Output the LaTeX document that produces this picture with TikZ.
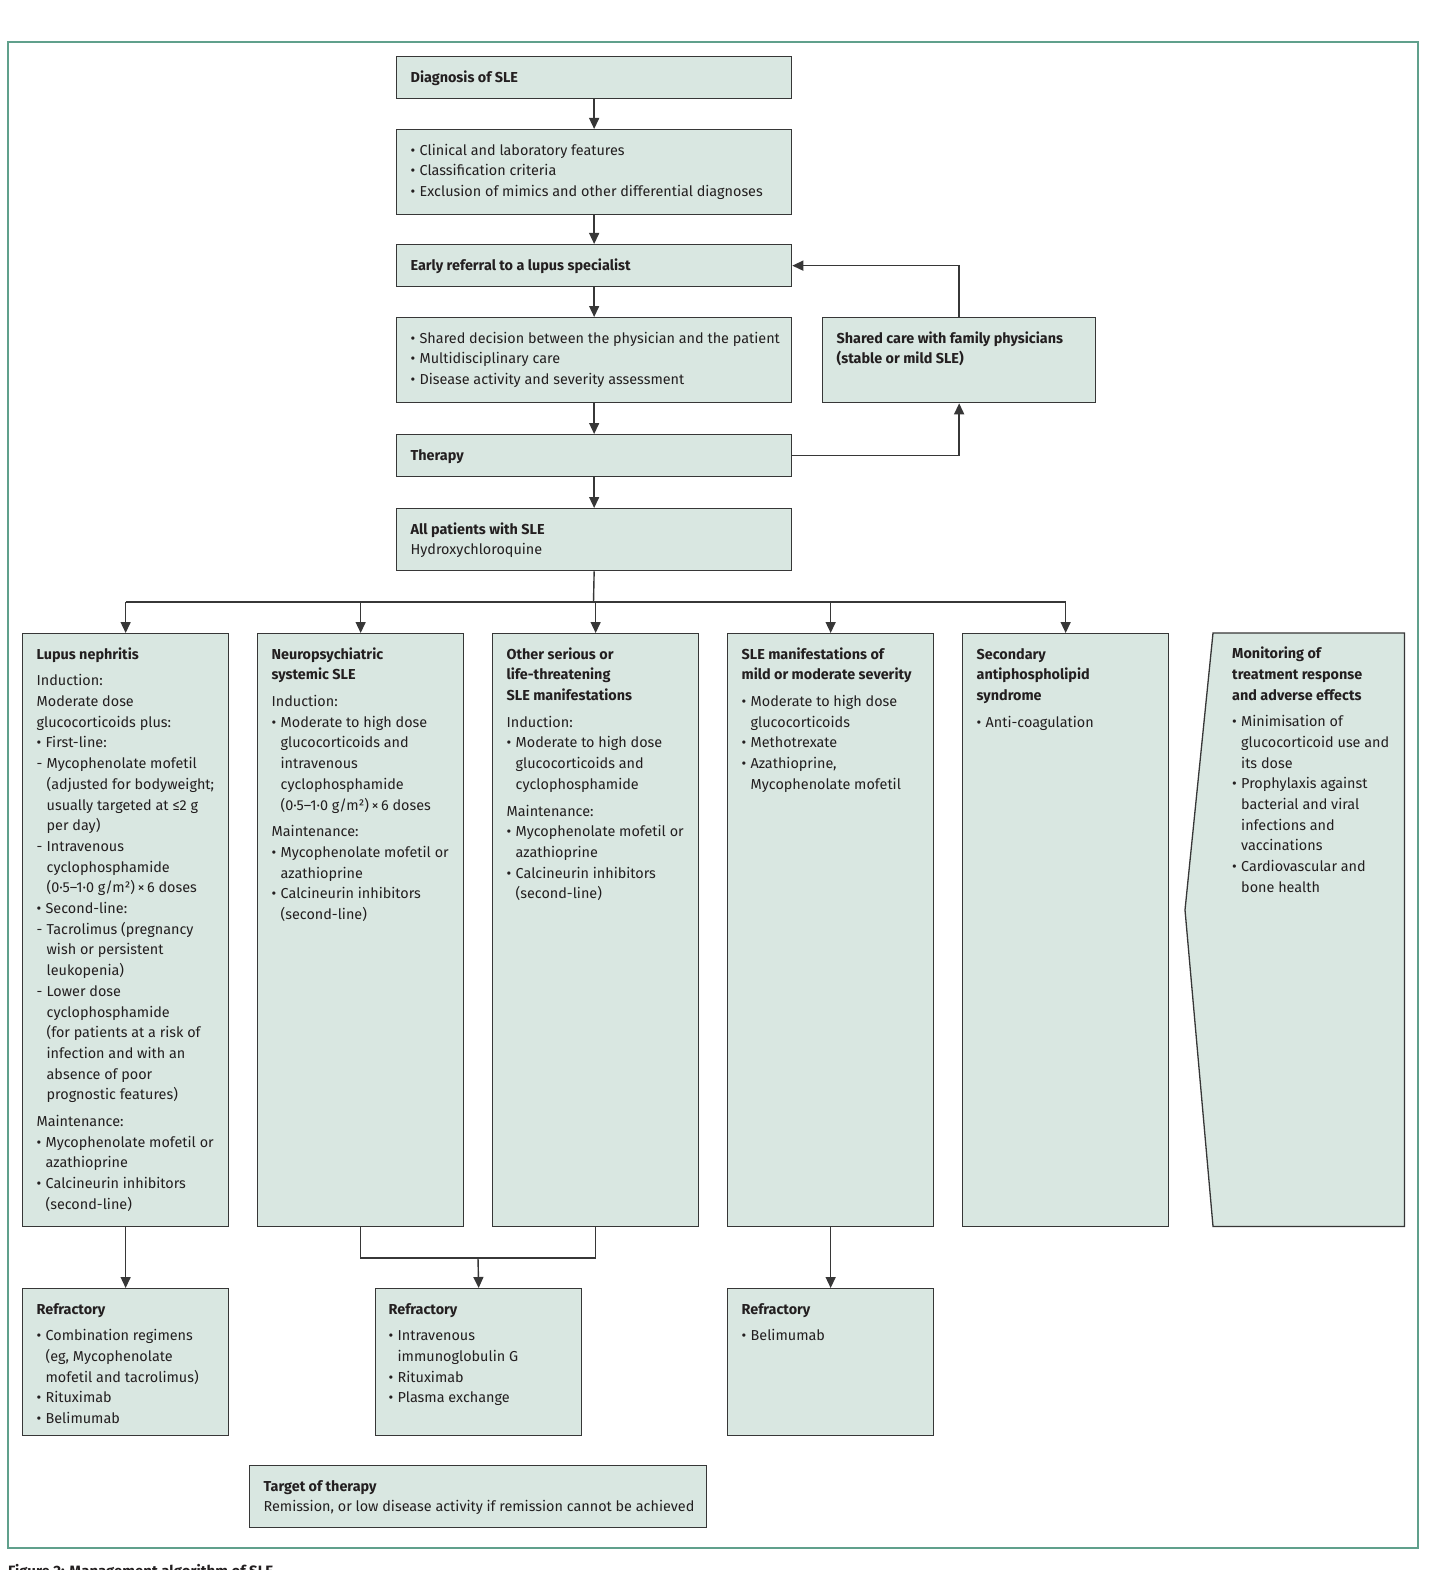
\documentclass[tikz,border=0pt]{standalone}
\usepackage{fontspec}
\setmainfont{Fira Sans}
\usetikzlibrary{arrows.meta,calc,backgrounds}

\definecolor{framegreen}{RGB}{96,160,140}
\definecolor{cardfill}{RGB}{217,231,225}
\definecolor{cardline}{RGB}{55,55,55}
\definecolor{inktext}{RGB}{35,31,32}

% box body: [left pad]{width}{height}{text}
\newcommand{\card}[4][14]{\parbox[t][#3pt][t]{#2pt}{\fontsize{14.4}{20.7}\selectfont
  \raggedright\leftskip=#1pt\parindent=0pt\vspace*{11pt}#4}}
\newcommand{\ttl}[1]{\par\leavevmode\strut\textbf{#1}}
\newcommand{\pl}{\par\leavevmode\strut}
\newcommand{\bl}{\par\hangindent=9pt\hangafter=1\leavevmode\strut\makebox[9pt][l]{\textbullet}}
\newcommand{\dl}{\par\hangindent=10pt\hangafter=1\leavevmode\strut\makebox[10pt][l]{-}}
\newcommand{\gap}{\par\vspace{6pt}}

\begin{document}
\begin{tikzpicture}[
    x=1pt, y=-1pt,
    card/.style={draw=cardline, fill=cardfill, line width=1.3pt, inner sep=0pt, anchor=north west, text=inktext},
    bare/.style={inner sep=0pt, anchor=north west, text=inktext},
    link/.style={draw=cardline, line width=1.4pt},
    arr/.style={link, -{Triangle[length=11pt,width=10pt]}}
]
\useasboundingbox (0,0) rectangle (1429,1570);

% frame
\draw[framegreen, line width=1.8pt] (8,42) rectangle (1418,1548);

% === main column ===
\node[card] (diag) at (396,56) {\card{395}{42}{\ttl{Diagnosis of SLE}}};
\node[card] (clinic) at (396,129) {\card{395}{85}{%
  \bl Clinical and laboratory features
  \bl Classification criteria
  \bl Exclusion of mimics and other differential diagnoses}};
\node[card] (referral) at (396,244) {\card{395}{42}{\ttl{Early referral to a lupus specialist}}};
\node[card] (decision) at (396,317) {\card{395}{85}{%
  \bl Shared decision between the physician and the patient
  \bl Multidisciplinary care
  \bl Disease activity and severity assessment}};
\node[card] (therapy) at (396,434) {\card{395}{42}{\ttl{Therapy}}};
\node[card] (allsle) at (396,508) {\card{395}{62}{%
  \ttl{All patients with SLE}
  \pl Hydroxychloroquine}};
\node[card] (familycare) at (822,317) {\card{273}{85}{%
  \ttl{Shared care with family physicians\newline (stable or mild SLE)}}};

\draw[arr] (diag) -- (clinic);
\draw[arr] (clinic) -- (referral);
\draw[arr] (referral) -- (decision);
\draw[arr] (decision) -- (therapy);
\draw[arr] (therapy) -- (allsle);
\draw[arr] (therapy.east) -| (familycare.south);
\draw[arr] (familycare.north) |- (referral.east);

% === organ groups ===
\node[card] (nephritis) at (22,633) {\card{206}{593}{%
  \ttl{Lupus nephritis}
  \gap\pl Induction:
  \pl Moderate dose
  \pl glucocorticoids plus:
  \bl First-line:
  \dl Mycophenolate mofetil\newline (adjusted for bodyweight;\newline usually targeted at ≤2 g\newline per day)
  \dl Intravenous\newline cyclophosphamide\newline (0·5–1·0 g/m²)\,×\,6 doses
  \bl Second-line:
  \dl Tacrolimus (pregnancy\newline wish or persistent\newline leukopenia)
  \dl Lower dose\newline cyclophosphamide\newline (for patients at a risk of\newline infection and with an\newline absence of poor\newline prognostic features)
  \gap\pl Maintenance:
  \bl Mycophenolate mofetil or\newline azathioprine
  \bl Calcineurin inhibitors\newline (second-line)}};
\node[card] (neuro) at (257,633) {\card{206}{593}{%
  \ttl{Neuropsychiatric\newline systemic SLE}
  \gap\pl Induction:
  \bl Moderate to high dose\newline glucocorticoids and\newline intravenous\newline cyclophosphamide\newline (0·5–1·0 g/m²)\,×\,6 doses
  \gap\pl Maintenance:
  \bl Mycophenolate mofetil or\newline azathioprine
  \bl Calcineurin inhibitors\newline (second-line)}};
\node[card] (serious) at (492,633) {\card{206}{593}{%
  \ttl{Other serious or\newline life-threatening\newline SLE manifestations}
  \gap\pl Induction:
  \bl Moderate to high dose\newline glucocorticoids and\newline cyclophosphamide
  \gap\pl Maintenance:
  \bl Mycophenolate mofetil or\newline azathioprine
  \bl Calcineurin inhibitors\newline (second-line)}};
\node[card] (mildsle) at (727,633) {\card{206}{593}{%
  \ttl{SLE manifestations of\newline mild or moderate severity}
  \gap\bl Moderate to high dose\newline glucocorticoids
  \bl Methotrexate
  \bl Azathioprine,\newline Mycophenolate mofetil}};
\node[card] (antiphos) at (962,633) {\card{206}{593}{%
  \ttl{Secondary\newline antiphospholipid\newline syndrome}
  \gap\bl Anti-coagulation}};
\node[bare] (monitor) at (1213,633) {\card[19]{191}{593}{%
  \ttl{Monitoring of\newline treatment response\newline and adverse effects}
  \gap\bl Minimisation of\newline glucocorticoid use and\newline its dose
  \bl Prophylaxis against\newline bacterial and viral\newline infections and\newline vaccinations
  \bl Cardiovascular and\newline bone health}};
\begin{scope}[on background layer]
  \filldraw[draw=cardline, fill=cardfill, line width=1.3pt]
    (monitor.north west) -- (monitor.north east) -- (monitor.south east)
    -- (monitor.south west) -- (1185,910) -- cycle;
\end{scope}

% split from all patients
\coordinate (split) at (593.5,602);
\draw[link] (allsle.south) -- (split);
\draw[link] (nephritis.north |- split) -- (antiphos.north |- split);
\foreach \grp in {nephritis, neuro, serious, mildsle, antiphos}
  \draw[arr] (\grp.north |- split) -- (\grp.north);

% === refractory ===
\node[card] (refractA) at (22,1288) {\card{206}{147}{%
  \ttl{Refractory}
  \gap\bl Combination regimens\newline (eg, Mycophenolate\newline mofetil and tacrolimus)
  \bl Rituximab
  \bl Belimumab}};
\node[card] (refractB) at (375,1288) {\card[13]{206}{147}{%
  \ttl{Refractory}
  \gap\bl Intravenous\newline immunoglobulin G
  \bl Rituximab
  \bl Plasma exchange}};
\node[card] (refractC) at (727,1288) {\card{206}{147}{%
  \ttl{Refractory}
  \gap\bl Belimumab}};

\coordinate (join) at (478,1258);
\draw[arr] (nephritis) -- (refractA);
\draw[link] (neuro.south) |- (join) -| (serious.south);
\draw[arr] (join) -- (refractB.north);
\draw[arr] (mildsle) -- (refractC);

\node[card] (target) at (249,1465) {\card{457}{62}{%
  \ttl{Target of therapy}
  \pl Remission, or low disease activity if remission cannot be achieved}};

\node[anchor=base west, inner sep=0pt, text=inktext, font=\fontsize{15}{18}\selectfont\bfseries]
  (caption) at (8,1576) {Figure 2: Management algorithm of SLE};
\end{tikzpicture}
\end{document}
